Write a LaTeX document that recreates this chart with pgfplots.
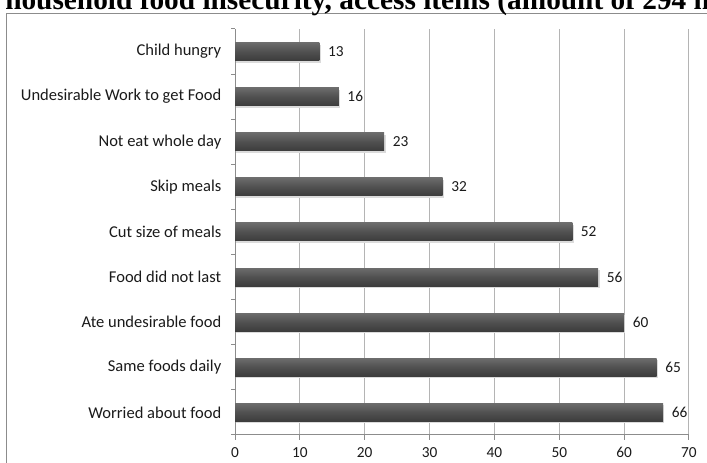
\documentclass[border=0pt]{standalone}
\usepackage{pgfplots}
\pgfplotsset{compat=1.18}
\usepackage{fontspec}
\setmainfont{Carlito}
\newfontfamily\titlefont{Liberation Serif}
\definecolor{framec}{HTML}{8C8C8C}
\definecolor{gridc}{HTML}{B4B4B4}
\definecolor{axisc}{HTML}{8C8C8C}
\definecolor{bartop}{HTML}{6C6C6C}
\definecolor{barmid}{HTML}{505050}
\definecolor{barbot}{HTML}{3C3C3C}
\definecolor{labelc}{HTML}{1A1A1A}

% household food insecurity access items (counts)
\pgfplotstableread{
pos value
0 66
1 65
2 60
3 56
4 52
5 32
6 23
7 16
8 13
}\itemdata

\begin{document}
\begin{tikzpicture}[x=0.75pt,y=0.75pt]
\path[use as bounding box, clip] (0,0) rectangle (707,463);
% outer chart frame
\draw[framec, line width=1.1pt] (6.5,-20) -- (6.5,449.5) -- (730,449.5);
% title
\node[anchor=base west, inner sep=0pt, font=\titlefont\bfseries\fontsize{22}{26}\selectfont]
  at (5,453.5) {household food insecurity, access items (amount of 294 households)};
\begin{axis}[
  at={(176.25pt,21pt)}, anchor=south west,
  scale only axis, width=340.5pt, height=304.5pt,
  xmin=0, xmax=70, ymin=-0.5, ymax=8.5,
  axis lines*=left,
  axis line style={axisc, line width=0.75pt},
  xtick={0,10,...,70},
  ytick={0,...,8},
  yticklabels={Worried about food, Same foods daily, Ate undesirable food, Food did not last, Cut size of meals, Skip meals, Not eat whole day, Undesirable Work to get Food, Child hungry},
  minor ytick={-0.5,0.5,...,8.5},
  tick align=outside,
  major tick length=3.75pt,
  minor tick length=3pt,
  major y tick style={draw=none},
  minor y tick style={axisc, line width=0.75pt},
  major x tick style={axisc, line width=0.75pt},
  xmajorgrids,
  major grid style={gridc, line width=0.75pt},
  /pgf/number format/assume math mode=true,
  tick label style={font=\fontsize{11.5}{13}\selectfont, text=labelc},
  yticklabel style={font=\fontsize{12.4}{14}\selectfont, xshift=-3pt},
  xticklabel style={yshift=-2pt},
  unbounded coords=discard,
  clip=false,
]
% one bar per item, so that each gets its own vertical gradient
\pgfplotsinvokeforeach{0,...,8}{
  \addplot[xbar, bar width=13.5pt, bar shift=-1.5pt, xshift=1pt,
    fill=black!14, draw=none, forget plot,
    y filter/.expression={abs(y-#1)<0.1 ? y : nan}] table[x=value, y=pos] {\itemdata};
  \addplot[xbar, bar width=13.5pt, bar shift=0pt, draw=none, forget plot,
    top color=bartop, bottom color=barbot, middle color=barmid,
    y filter/.expression={abs(y-#1)<0.1 ? y : nan},
    nodes near coords,
    every node near coord/.append style={font=\fontsize{11.5}{13}\selectfont, text=labelc, xshift=3pt},
  ] table[x=value, y=pos] {\itemdata};
}
\end{axis}
\end{tikzpicture}
\end{document}
